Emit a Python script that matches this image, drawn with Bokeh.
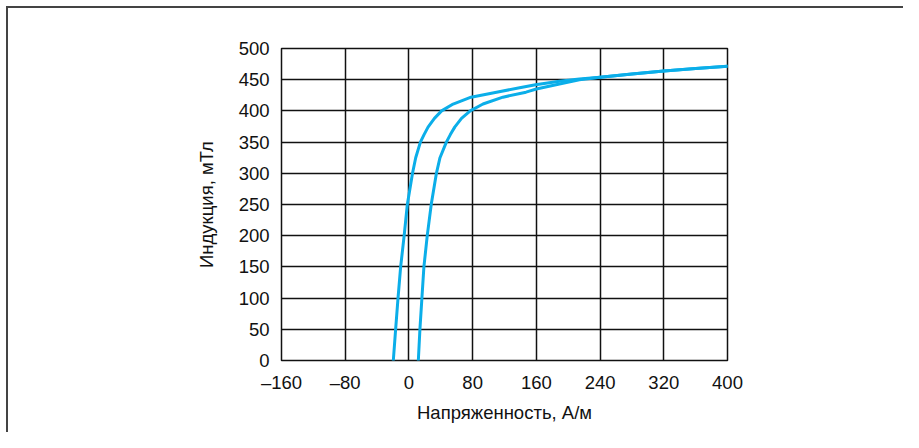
from bokeh.plotting import figure
from bokeh.models import FixedTicker
from bokeh.embed import file_html
from bokeh.resources import INLINE

# Data (H in A/m, B in mT)
upper_h = [-19.6, -16.7, -13.7, -10.4, -6.0, -2.0, 4.5, 8.5, 14.4, 19.0, 24.0, 32.0, 41.0, 55.5, 78.0,
           110.0, 139.0, 159.0, 189.0, 214.0, 240.0, 280.0, 320.0, 360.0, 400.0]
upper_b = [0, 50, 100, 150, 200, 250, 300, 325, 350, 362, 374, 388, 400, 411, 422,
           430, 437, 442, 447.5, 451, 454, 459, 464, 468, 471.5]

lower_h = [11.8, 13.8, 16.3, 18.8, 23.0, 28.0, 34.5, 39.0, 47.0, 52.0, 57.5, 66.0, 77.0, 93.0, 118.0,
           147.0, 160.0, 189.0, 214.0, 240.0, 280.0, 320.0, 360.0, 400.0]
lower_b = [0, 50, 100, 150, 200, 250, 300, 325, 350, 362, 374, 388, 400, 411, 422,
           430, 435, 443, 450, 454, 459, 464, 468, 471.5]

x_ticks = [-160, -80, 0, 80, 160, 240, 320, 400]
x_tick_labels = ["–160", "–80", "0", "80", "160", "240", "320", "400"]
y_ticks = [0, 50, 100, 150, 200, 250, 300, 350, 400, 450, 500]

FONT = "Liberation Sans"
CURVE = "#0BAEE9"

p = figure(width=903, height=432, x_range=(-160, 400), y_range=(0, 500),
           output_backend="svg", toolbar_location=None,
           min_border_left=281, min_border_right=176, min_border_top=48, min_border_bottom=72)

# partial page frame (top and left edges only), drawn behind a transparent canvas
p.border_fill_color = None
p.background_fill_color = "white"
p.styles = {
    "background-color": "white",
    "background-image": "linear-gradient(#444444, #444444), linear-gradient(#444444, #444444)",
    "background-size": "2000px 2px, 2px 2000px",
    "background-position": "6px 6px, 6px 6px",
    "background-repeat": "no-repeat, no-repeat",
}

p.outline_line_color = "#111111"
p.outline_line_width = 1.5

p.xaxis.ticker = FixedTicker(ticks=x_ticks)
p.yaxis.ticker = FixedTicker(ticks=y_ticks)
p.xaxis.major_label_overrides = {t: l for t, l in zip(x_ticks, x_tick_labels)}

for ax in (p.xaxis, p.yaxis):
    ax.major_tick_line_color = None
    ax.minor_tick_line_color = None
    ax.axis_line_color = None
    ax.major_label_text_font = FONT
    ax.major_label_text_font_size = "18.5px"
    ax.major_label_text_color = "#111111"
    ax.axis_label_text_font = FONT
    ax.axis_label_text_font_size = "18.5px"
    ax.axis_label_text_font_style = "normal"
    ax.axis_label_text_color = "#111111"

p.xaxis.axis_label = "Напряженность, А/м"
p.yaxis.axis_label = "Индукция, мТл"
p.xaxis.major_label_standoff = 5
p.yaxis.major_label_standoff = 6
p.xaxis.axis_label_standoff = 6
p.yaxis.axis_label_standoff = 19

p.xgrid.ticker = FixedTicker(ticks=x_ticks)
p.ygrid.ticker = FixedTicker(ticks=y_ticks)
p.grid.grid_line_color = "#111111"
p.grid.grid_line_width = 1.5
p.grid.grid_line_alpha = 1.0

p.line(upper_h, upper_b, line_color=CURVE, line_width=3, line_join="round", line_cap="round")
p.line(lower_h, lower_b, line_color=CURVE, line_width=3, line_join="round", line_cap="round")

open("out.html", "w").write(file_html(p, INLINE))
